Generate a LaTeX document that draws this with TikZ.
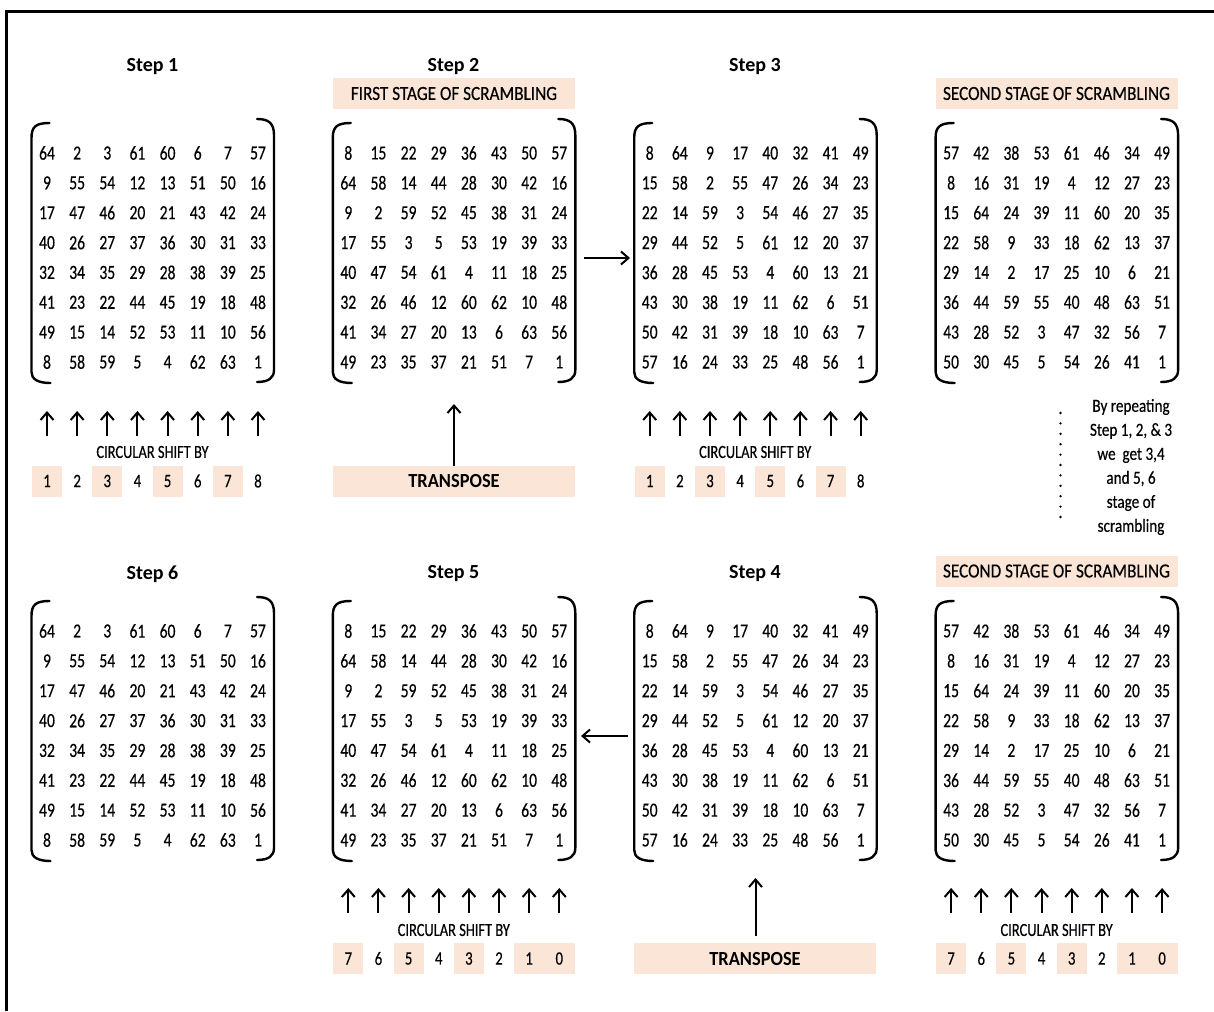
\documentclass[tikz,border=0pt]{standalone}
\usepackage{fontspec}
\setmainfont{Carlito}
\newfontfamily\cnd{Carlito}[FakeStretch=0.78,FakeBold=0.35]
\newfontfamily\bnd{Carlito}[FakeStretch=0.86,FakeBold=0.35]
\newfontfamily\rnd{Carlito}[FakeStretch=0.82,FakeBold=0.35]
\newfontfamily\tnd{Carlito}[FakeStretch=0.92]
\usetikzlibrary{arrows.meta}
\definecolor{peach}{HTML}{FBE5D6}

\def\dataA{{64,2,3,61,60,6,7,57},{9,55,54,12,13,51,50,16},{17,47,46,20,21,43,42,24},{40,26,27,37,36,30,31,33},{32,34,35,29,28,38,39,25},{41,23,22,44,45,19,18,48},{49,15,14,52,53,11,10,56},{8,58,59,5,4,62,63,1}}
\def\dataB{{8,15,22,29,36,43,50,57},{64,58,14,44,28,30,42,16},{9,2,59,52,45,38,31,24},{17,55,3,5,53,19,39,33},{40,47,54,61,4,11,18,25},{32,26,46,12,60,62,10,48},{41,34,27,20,13,6,63,56},{49,23,35,37,21,51,7,1}}
\def\dataC{{8,64,9,17,40,32,41,49},{15,58,2,55,47,26,34,23},{22,14,59,3,54,46,27,35},{29,44,52,5,61,12,20,37},{36,28,45,53,4,60,13,21},{43,30,38,19,11,62,6,51},{50,42,31,39,18,10,63,7},{57,16,24,33,25,48,56,1}}
\def\dataD{{57,42,38,53,61,46,34,49},{8,16,31,19,4,12,27,23},{15,64,24,39,11,60,20,35},{22,58,9,33,18,62,13,37},{29,14,2,17,25,10,6,21},{36,44,59,55,40,48,63,51},{43,28,52,3,47,32,56,7},{50,30,45,5,54,26,41,1}}

% #1 name, #2 centre x, #3 first row y, #4 data
\newcommand\mymat[4]{%
  \foreach \row [count=\i] in #4 {%
    \foreach \v [count=\j] in \row {%
      \node[num] (#1-\i-\j) at ({#2+(\j-4.5)*30.14},{#3+(\i-1)*29.86}) {\v};
    }
  }
  \draw[brk] ({#2-103},{#3-30}) .. controls ({#2-117},{#3-30}) and ({#2-121},{#3-26}) .. ({#2-121},{#3-15})
     -- ({#2-121},{#3+219}) .. controls ({#2-121},{#3+226}) and ({#2-115},{#3+230}) .. ({#2-102},{#3+230});
  \draw[brk] ({#2+104.5},{#3-34}) .. controls ({#2+116},{#3-34}) and ({#2+121.5},{#3-30}) .. ({#2+121.5},{#3-18})
     -- ({#2+121.5},{#3+217}) .. controls ({#2+121.5},{#3+225}) and ({#2+116},{#3+229}) .. ({#2+104.5},{#3+229});
}
% #1 name, #2 centre x, #3 arrow tip y
\newcommand\colarrows[3]{%
  \foreach \j in {1,...,8} {%
    \coordinate (#1-s\j) at ({#2+(\j-4.5)*30.14},{#3+25});
    \coordinate (#1-t\j) at ({#2+(\j-4.5)*30.14},{#3});
    \draw[arr] (#1-s\j) -- (#1-t\j);
  }
}

\begin{document}
\begin{tikzpicture}[x=1pt,y=-1pt,
  num/.style={font=\cnd\fontsize{20}{24}\selectfont, inner sep=0pt},
  ttl/.style={font=\bfseries\fontsize{20}{24}\selectfont, inner sep=0pt},
  ban/.style={fill=peach, minimum width=242pt, minimum height=31pt, inner sep=0pt, font=\bnd\fontsize{20}{24}\selectfont},
  tbox/.style={fill=peach, minimum width=242pt, minimum height=31pt, inner sep=0pt, font=\tnd\bfseries\fontsize{20}{24}\selectfont},
  shl/.style={font=\cnd\fontsize{18.5}{22}\selectfont, inner sep=0pt},
  sn/.style={font=\cnd\fontsize{19}{22}\selectfont, inner sep=0pt, minimum width=30pt, minimum height=31pt},
  snb/.style={sn, fill=peach},
  brk/.style={line width=2.4pt, line cap=round},
  arr/.style={line width=2pt, -{Straight Barb[length=7.5pt,width=13pt,line width=2pt]}},
]
\useasboundingbox (0,0) rectangle (1214,1011);
\fill[white] (0,0) rectangle (1214,1011);
% frame
\draw[line width=3.5pt] (6.5,1011) -- (6.5,11.5) -- (1214,11.5);

% titles
\node[ttl] (t1) at (152.5,67) {Step 1};
\node[ttl] (t2) at (453.5,67) {Step 2};
\node[ttl] (t3) at (755,67) {Step 3};
\node[ttl] (t6) at (152.5,574) {Step 6};
\node[ttl] (t5) at (453.5,574) {Step 5};
\node[ttl] (t4) at (755,574) {Step 4};

% banners
\node[ban] (b1) at (454,93.5) {FIRST STAGE OF SCRAMBLING};
\node[ban] (b2) at (1056.5,93.5) {SECOND STAGE OF SCRAMBLING};
\node[ban] (b3) at (1056.5,571) {SECOND STAGE OF SCRAMBLING};

% matrices
\mymat{ma}{152.5}{153}{\dataA}
\mymat{mb}{453.8}{153}{\dataB}
\mymat{mc}{755.2}{153}{\dataC}
\mymat{md}{1056.6}{153}{\dataD}
\mymat{mf}{152.5}{631}{\dataA}
\mymat{me}{453.8}{631}{\dataB}
\mymat{mg}{755.2}{631}{\dataC}
\mymat{mh}{1056.6}{631}{\dataD}

% step 1 shift
\colarrows{aa}{152.5}{411}
\node[shl] (c1) at (152.5,452) {CIRCULAR SHIFT BY};
\foreach \j in {1,...,8} {
  \pgfmathtruncatemacro\odd{mod(\j,2)}
  \ifnum\odd=1
    \node[snb] (n1-\j) at ({152.5+(\j-4.5)*30.14},481) {\j};
  \else
    \node[sn] (n1-\j) at ({152.5+(\j-4.5)*30.14},481) {\j};
  \fi
}
% step 3 shift
\colarrows{ac}{755.2}{411}
\node[shl] (c3) at (755.2,452) {CIRCULAR SHIFT BY};
\foreach \j in {1,...,8} {
  \pgfmathtruncatemacro\odd{mod(\j,2)}
  \ifnum\odd=1
    \node[snb] (n3-\j) at ({755.2+(\j-4.5)*30.14},481) {\j};
  \else
    \node[sn] (n3-\j) at ({755.2+(\j-4.5)*30.14},481) {\j};
  \fi
}
% transpose top
\node[tbox] (tr1) at (454,481.5) {TRANSPOSE};
\coordinate (tr1t) at (454,404);
\draw[arr] (tr1.north) -- (tr1t);
% arrow 2 -> 3
\coordinate (h1a) at (584,258);
\coordinate (h1b) at (630,258);
\draw[arr] (h1a) -- (h1b);

% dotted line and note
\coordinate (d1) at (1060.5,413);
\coordinate (d2) at (1060.5,517);
\draw[line width=2.6pt, line cap=round, dash pattern=on 0pt off 10.4pt] (d1) -- (d2);
\node[font=\rnd\fontsize{18.5}{24}\selectfont, align=center, inner sep=0pt] (note) at (1131,467)
  {By repeating\\Step 1, 2, \& 3\\we\ \ get 3,4\\and 5, 6\\stage of\\scrambling};

% step 5 shift (bottom middle) and bottom right
\foreach \cx/\nm in {453.8/e, 1056.6/h} {
  \colarrows{a\nm}{\cx}{888}
  \node[shl] (c\nm) at (\cx,930) {CIRCULAR SHIFT BY};
  \fill[peach] ({\cx+(7-4.5)*30.14-15},943) rectangle ({\cx+(8-4.5)*30.14+16},974);
  \foreach \j [evaluate=\j as \v using int(8-\j)] in {1,...,8} {
    \pgfmathtruncatemacro\odd{mod(\j,2)}
    \ifnum\j<7
      \ifnum\odd=1
        \node[snb] (n\nm-\j) at ({\cx+(\j-4.5)*30.14},958.5) {\v};
      \else
        \node[sn] (n\nm-\j) at ({\cx+(\j-4.5)*30.14},958.5) {\v};
      \fi
    \else
      \node[sn] (n\nm-\j) at ({\cx+(\j-4.5)*30.14},958.5) {\v};
    \fi
  }
}
% transpose bottom
\node[tbox] (tr2) at (755,958.5) {TRANSPOSE};
\coordinate (tr2s) at (755.5,936);
\coordinate (tr2t) at (755.5,878);
\draw[arr] (tr2s) -- (tr2t);
% arrow 4 -> 5
\coordinate (h2a) at (628,736);
\coordinate (h2b) at (581,736);
\draw[arr] (h2a) -- (h2b);
\end{tikzpicture}
\end{document}
